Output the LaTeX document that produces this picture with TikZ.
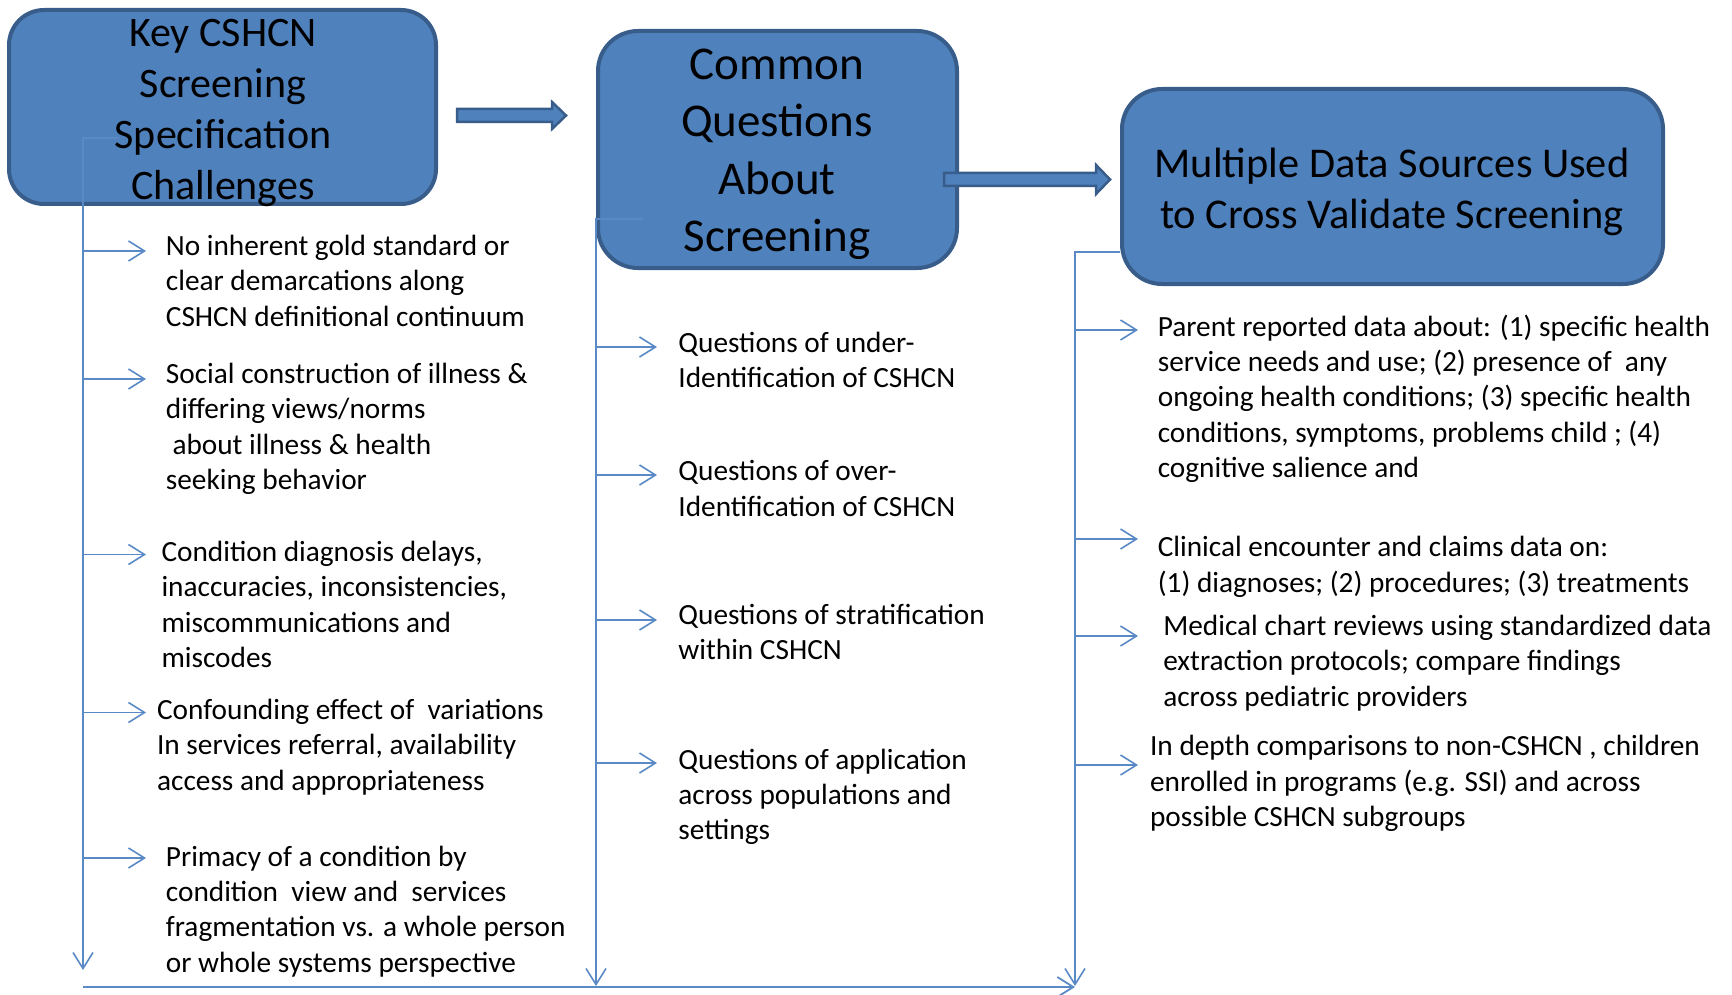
\documentclass[tikz,border=0pt]{standalone}
\usepackage{fontspec}
\setmainfont{Carlito}
\usetikzlibrary{arrows.meta}
\definecolor{boxfill}{HTML}{4F81BD}
\definecolor{boxedge}{HTML}{385D8A}
\definecolor{conn}{HTML}{5A8AC6}
\tikzset{
  bigbox/.style={draw=boxedge, fill=boxfill, line width=4pt, inner sep=0pt},
  boxtxt/.style={align=center, inner sep=0pt, text=black},
  item/.style={align=left, inner sep=0pt, anchor=base west, font=\fontsize{29.3}{35.35}\selectfont},
  conline/.style={draw=conn, line width=1.6pt},
  branch/.style={conline, -{Straight Barb[length=16pt,width=20pt,line width=1.6pt]}},
  downarr/.style={conline, -{Straight Barb[length=16pt,width=20pt,line width=1.6pt]}},
  blockarr/.style={draw=boxedge, fill=boxfill, line width=2.5pt, line join=miter}
}
\begin{document}
\begin{tikzpicture}[x=1pt,y=-1pt]
\useasboundingbox (0,0) rectangle (1732,995);

% boxes
\node[bigbox, minimum width=427pt, minimum height=194pt, rounded corners=35pt] (k1) at (222.5,107) {};
\node[bigbox, minimum width=359pt, minimum height=237pt, rounded corners=40pt] (k2) at (777.5,149.5) {};
\node[bigbox, minimum width=541pt, minimum height=195pt, rounded corners=40pt] (k3) at (1392.5,186.5) {};

% connectors (drawn over boxes)
\coordinate (c1s) at (119,138);
\coordinate (c1c) at (83,138);
\coordinate (c1e) at (83,970);
\draw[downarr] (c1s) -- (c1c) -- (c1e);
\coordinate (c2s) at (643,219);
\coordinate (c2c) at (596,219);
\coordinate (c2e) at (596,986);
\draw[downarr] (c2s) -- (c2c) -- (c2e);
\coordinate (c3c) at (1075,252);
\coordinate (c3e) at (1075,986);
\draw[downarr] (k3.west |- c3c) -- (c3c) -- (c3e);
\coordinate (bs) at (83,987);
\draw[draw=conn, line width=2.2pt, -{Straight Barb[length=16pt,width=20pt,line width=1.8pt]}] (bs) -- (c3e |- bs);

% box texts
\node[boxtxt, font=\fontsize{42}{51.3}\selectfont] (k1t) at (223,113) {Key CSHCN\\Screening\\Specification\\Challenges};
\node[boxtxt, font=\fontsize{47}{57.5}\selectfont] (k2t) at (777,154.5) {Common\\Questions\\About\\Screening};
\node[boxtxt, font=\fontsize{42.4}{50.8}\selectfont] (k3t) at (1392,192) {Multiple Data Sources Used\\to Cross Validate Screening};

% block arrows
\draw[blockarr] (457,109) -- (552,109) -- (552,102) -- (566,115.5) -- (552,129) -- (552,122) -- (457,122) -- cycle;
\draw[blockarr] (944,173) -- (1096,173) -- (1096,165) -- (1110,179.5) -- (1096,194) -- (1096,186) -- (944,186) -- cycle;

% left items (anchor = baseline of last line)
\node[item] (l1) at (165.7,326) {No inherent gold standard or\\clear demarcations along\\CSHCN definitional continuum};
\node[item] (l2) at (165.7,489.55) {Social construction of illness \&\\differing views/norms\\\hspace*{6.6pt}about illness \& health\\seeking behavior};
\node[item] (l3) at (161.3,667.35) {Condition diagnosis delays,\\inaccuracies, inconsistencies,\\miscommunications and\\miscodes};
\node[item] (l4) at (156.9,790) {Confounding effect of\ \ variations\\In services referral, availability\\access and appropriateness};
\node[item] (l5) at (165.7,972.25) {Primacy of a condition by\\condition\ \ view and\ \ services\\fragmentation vs. a whole person\\or whole systems perspective};

% middle items
\node[item] (m1) at (678.2,387.85) {Questions of under-\\Identification of CSHCN};
\node[item] (m2) at (678.2,516.05) {Questions of over-\\Identification of CSHCN};
\node[item] (m3) at (678.2,659.65) {Questions of stratification\\within CSHCN};
\node[item] (m4) at (678.2,839.7) {Questions of application\\across populations and\\settings};

% right items
\node[item] (r1) at (1157.6,477.4) {Parent reported data about: (1) specific health\\service needs and use; (2) presence of\ \ any\\ongoing health conditions; (3) specific health\\conditions, symptoms, problems child ; (4)\\cognitive salience and};
\node[item] (r2) at (1157.6,592.25) {Clinical encounter and claims data on:\\(1) diagnoses; (2) procedures; (3) treatments};
\node[item] (r3) at (1163.1,706) {Medical chart reviews using standardized data\\extraction protocols; compare findings\\across pediatric providers};
\node[item] (r4) at (1149.9,826.4) {In depth comparisons to non-CSHCN , children\\enrolled in programs (e.g. SSI) and across\\possible CSHCN subgroups};

% branch arrows
\foreach \y/\n in {251/1,379/2,554.5/3,712.5/4,858/5}{
  \coordinate (la\n) at (146,\y);
  \draw[branch] (c1c |- la\n) -- (la\n);
}
\foreach \y/\n in {347/1,475/2,620/3,763/4}{
  \coordinate (ma\n) at (657,\y);
  \draw[branch] (c2c |- ma\n) -- (ma\n);
}
\foreach \y/\n in {330/1,539/2,636/3,765/4}{
  \coordinate (ra\n) at (1138,\y);
  \draw[branch] (c3c |- ra\n) -- (ra\n);
}
\end{tikzpicture}
\end{document}
